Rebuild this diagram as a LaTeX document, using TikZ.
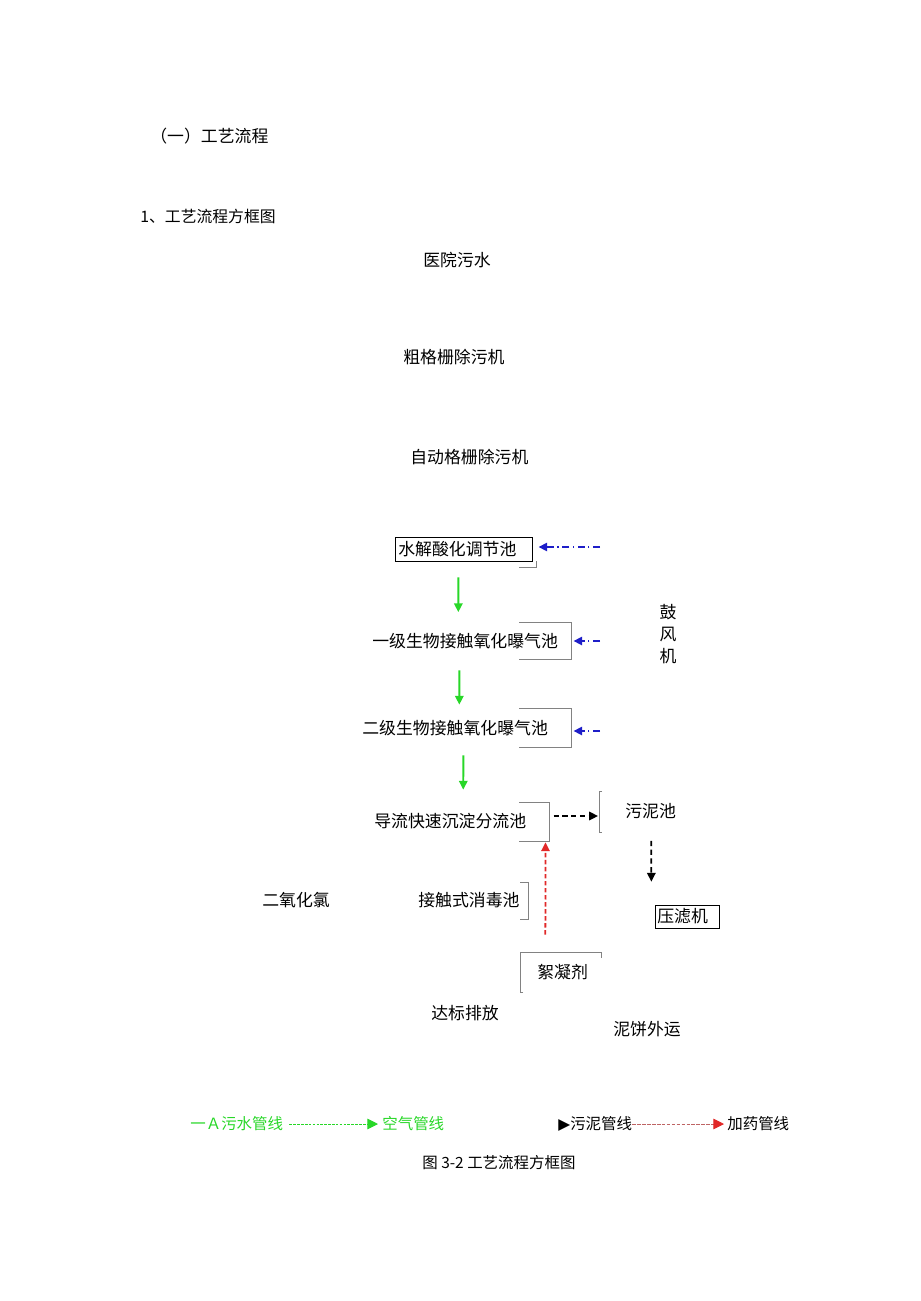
\documentclass[tikz,border=0pt]{standalone}
\usepackage{fontspec}
\setmainfont{Noto Sans CJK SC}
\newfontfamily\symfont{DejaVu Sans}
\usetikzlibrary{arrows.meta}
\definecolor{watergreen}{RGB}{40,215,40}
\definecolor{airblue}{RGB}{30,30,200}
\definecolor{dosered}{RGB}{225,40,40}
\definecolor{dosebrown}{RGB}{190,100,100}
\definecolor{framegray}{RGB}{130,130,130}
\tikzset{txt/.style = {anchor=west, inner sep=0pt, text height=8.5pt, text depth=1.2pt,
                       font=\fontsize{9.6pt}{11pt}\selectfont}}
\tikzset{legtxt/.style = {txt, text height=7.8pt, text depth=1.1pt,
                          font=\fontsize{8.8pt}{10pt}\selectfont}}
\tikzset{water/.style = {watergreen, line width=1.1pt, -{Triangle[width=4.8pt,length=5pt]}},
         air/.style = {airblue, line width=0.85pt, dash pattern=on 4pt off 2pt on 0.8pt off 2pt,
                       -{Triangle[width=4.8pt,length=4.8pt]}},
         sludge/.style = {black, line width=1pt, dash pattern=on 3pt off 2pt,
                          -{Triangle[width=4.8pt,length=5pt]}},
         dose/.style = {dosered, line width=1pt, dash pattern=on 2.5pt off 1.5pt,
                        -{Triangle[width=4.8pt,length=5pt]}},
         bracket/.style = {framegray, line width=0.5pt}}

\begin{document}
\begin{tikzpicture}[x=0.02cm, y=-0.02cm]
            \useasboundingbox (0,0) rectangle (920,1301);
            % headings
            \node[txt] (title) at (150,136) {（一）工艺流程};
            \node[txt, font=\fontsize{9pt}{11pt}\selectfont] (subtitle) at (140,216) {1、工艺流程方框图};
            % process chain
            \node[txt] (yiyuan) at (423,260) {医院污水};
            \node[txt] (cugeshan) at (403,357) {粗格栅除污机};
            \node[txt] (zidong) at (410,457) {自动格栅除污机};
            \node[txt, draw, text width=2.62cm, inner xsep=0.06cm, minimum height=0.48cm, align=left] (tiaojie) at (395,549) {水解酸化调节池};
            \node[txt] (yiji) at (372,641) {一级生物接触氧化曝气池};
            \node[txt] (erji) at (362,728) {二级生物接触氧化曝气池};
            \node[txt] (daoliu) at (374,821) {导流快速沉淀分流池};
            \node[txt] (wunichi) at (625,811) {污泥池};
            \node[txt, draw, text width=1.2cm, inner xsep=0.04cm, minimum height=0.46cm, align=left] (yalvji) at (655,916.5) {压滤机};
            \node[txt] (eryang) at (262,900) {二氧化氯};
            \node[txt] (xiaodu) at (418,900) {接触式消毒池};
            \node[txt] (xuningji) at (537,972) {絮凝剂};
            \node[txt] (dabiao) at (431,1013) {达标排放};
            \node[txt] (nibing) at (613,1029) {泥饼外运};
            \node[inner sep=0pt, align=center, font=\fontsize{9.6pt}{12.5pt}\selectfont] (gufeng) at (668,634) {鼓\\风\\机};
            % gray frames
            \draw[bracket] (519,567) -- (536,567) -- (536,561);
            \draw[bracket] (519,622) -- (571,622) -- (571,659) -- (519,659);
            \draw[bracket] (519,708) -- (571,708) -- (571,747) -- (519,747);
            \draw[bracket] (519,802) -- (549,802) -- (549,841) -- (519,841);
            \draw[bracket] (602,791) -- (599,791) -- (599,832) -- (602,832);
            \draw[bracket] (520,882) -- (528,882) -- (528,919) -- (520,919);
            \draw[bracket] (523,992) -- (520,992) -- (520,952) -- (601,952) -- (601,958);
            % sewage
            \draw[water] ([shift={(-5.5,16)}]tiaojie.south) -- ([shift={(-6.8,-20)}]yiji.north);
            \draw[water] ([shift={(-5.8,20.5)}]yiji.south) -- ([shift={(4.2,-14.5)}]erji.north);
            \draw[water] ([shift={(8.2,18.5)}]erji.south) -- ([shift={(13,-22.5)}]daoliu.north);
            % air
            \coordinate (air1) at (600,547);
            \coordinate (air2) at (600,641);
            \coordinate (air3) at (600,731);
            \draw[air] (air1) -- ([shift={(6,-2)}]tiaojie.east);
            \draw[air] (air2) -- ([shift={(15.4,0)}]yiji.east);
            \draw[air] (air3) -- ([shift={(25.4,3)}]erji.east);
            % sludge
            \draw[sludge] ([shift={(27,-5)}]daoliu.east) -- ([shift={(-27,5)}]wunichi.west);
            \draw[sludge] ([shift={(0.7,21)}]wunichi.south) -- ([shift={(-36,-23)}]yalvji.north);
            % dosing
            \draw[dose] ([shift={(-17.3,-28.5)}]xuningji.north) -- ([shift={(19,12.5)}]daoliu.south east);
            % legend
            \node[legtxt, watergreen] (lgwater) at (190,1124) {一Ａ污水管线};
            \node[legtxt, watergreen] (lgair) at (382,1124) {空气管线};
            \node[legtxt] (lgsludge) at (558,1124) {{\symfont ▶}污泥管线};
            \node[legtxt] (lgdose) at (727,1124) {加药管线};
            \draw[watergreen, line width=0.4pt, dash pattern=on 1.5pt off 0.7pt, shorten <=0.12cm, shorten >=0.08cm,
                  -{Triangle[width=6pt,length=6pt,color=watergreen]}] (lgwater.east) -- (lgair.west);
            \draw[dosebrown, line width=0.4pt, dash pattern=on 2pt off 0.8pt, shorten >=0.06cm,
                  -{Triangle[width=6pt,length=6pt,color=dosered]}] (lgsludge.east) -- (lgdose.west);
            \node[legtxt] (caption) at (422,1163) {图 3-2 工艺流程方框图};
        \end{tikzpicture}
\end{document}
